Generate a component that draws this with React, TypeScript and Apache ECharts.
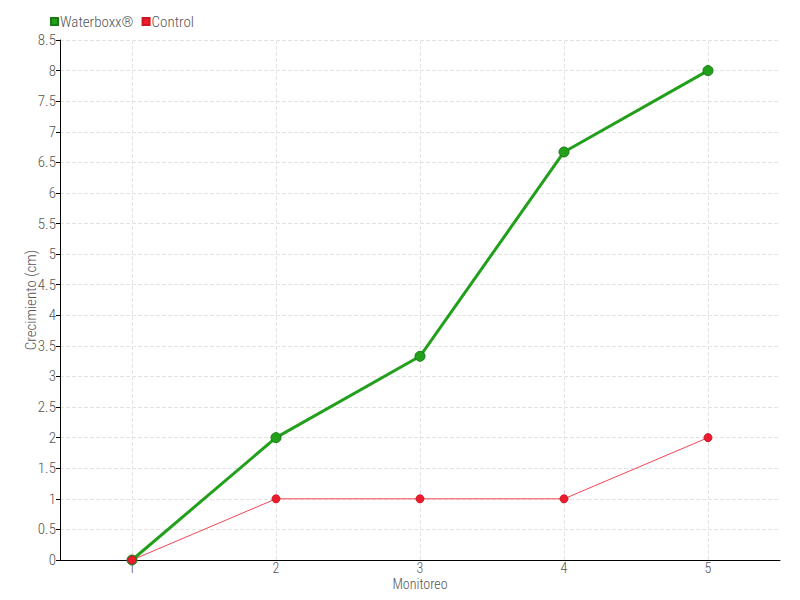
import React, { useEffect, useRef } from "react";
import * as echarts from "echarts";

const categories = ["1", "2", "3", "4", "5"];
const waterboxx = [0, 2, 3.33, 6.67, 8];
const control = [0, 1, 1, 1, 2];
const legendNames = ["Waterboxx®", "Control"];

const FONT = "'Roboto Condensed', 'DejaVu Sans Condensed', sans-serif";
const TXT = "#555";

export default function App() {
  const ref = useRef<HTMLDivElement>(null);
  useEffect(() => {
    const chart = echarts.init(ref.current!, undefined, { renderer: "svg" });
    chart.setOption({
      animation: false,
      textStyle: { fontFamily: FONT, color: TXT, fontWeight: 300 },
      legend: {
        left: 45,
        top: 9,
        itemWidth: 7,
        itemHeight: 7,
        itemGap: 8,
        icon: "rect",
        textStyle: { fontFamily: FONT, fontSize: 15, fontWeight: 300, color: TXT, padding: [0, 0, 0, -3] },
        data: legendNames,
      },
      grid: { left: 60, right: 20, top: 40, bottom: 40, outerBoundsMode: "none" },
      xAxis: {
        type: "category",
        data: categories,
        boundaryGap: true,
        name: "Monitoreo",
        nameLocation: "middle",
        nameGap: 17,
        nameMoveOverlap: false,
        nameTextStyle: { fontFamily: FONT, fontSize: 14, fontWeight: 300, color: TXT },
        axisLine: { lineStyle: { color: "#000" } },
        axisTick: { alignWithLabel: true, length: 4, lineStyle: { color: "#000" } },
        axisLabel: { fontFamily: FONT, fontSize: 14, fontWeight: 300, color: TXT, margin: 1 },
        splitLine: { show: true, alignWithLabel: true, lineStyle: { type: "dashed", color: "#e3e3e3" } },
      },
      yAxis: {
        type: "value",
        min: 0,
        max: 8.5,
        interval: 0.5,
        name: "Crecimiento (cm)",
        nameLocation: "middle",
        nameGap: 22,
        nameMoveOverlap: false,
        nameTextStyle: { fontFamily: FONT, fontSize: 15, fontWeight: 300, color: TXT },
        axisLine: { show: true, lineStyle: { color: "#000" } },
        axisTick: { show: true, length: 4, lineStyle: { color: "#000" } },
        axisLabel: { fontFamily: FONT, fontSize: 15, fontWeight: 300, color: TXT, margin: 4 },
        splitLine: { show: true, lineStyle: { type: "dashed", color: "#e3e3e3" } },
      },
      series: [
        {
          name: legendNames[0],
          type: "line",
          data: waterboxx,
          symbol: "circle",
          symbolSize: 10,
          lineStyle: { width: 3, color: "#22a01b" },
          itemStyle: { color: "#22a01b", borderColor: "#1a7a18", borderWidth: 1 },
        },
        {
          name: legendNames[1],
          type: "line",
          data: control,
          symbol: "circle",
          symbolSize: 8,
          lineStyle: { width: 1, color: "#f24655" },
          itemStyle: { color: "#ec1c2c", borderColor: "#cf1424", borderWidth: 1 },
        },
      ],
    });
    return () => chart.dispose();
  }, []);
  return <div ref={ref} style={{ width: 800, height: 600, position: "absolute", left: 0, top: 0 }} />;
}
